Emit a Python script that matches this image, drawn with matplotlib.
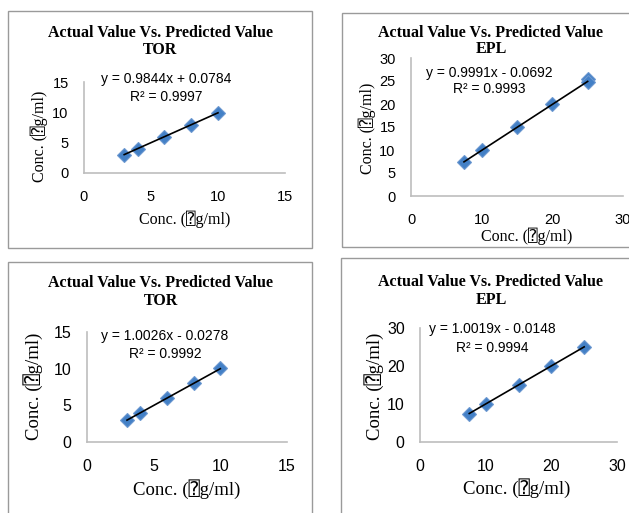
import matplotlib.pyplot as plt
import numpy as np
from matplotlib.patches import Rectangle

W, H = 629, 513

# données
tor_x = [3, 4, 6, 8, 10]
tor_y_1 = [3.03, 4.0, 5.98, 7.95, 9.92]
tor_y_2 = [3.0, 3.98, 6.0, 7.98, 10.05]
epl_x_1 = [7.5, 10, 15, 20, 25, 25]
epl_y_1 = [7.45, 9.9, 14.9, 19.9, 25.4, 24.7]
epl_x_2 = [7.5, 10, 15, 20, 25]
epl_y_2 = [7.5, 9.98, 15.0, 20.05, 25.0]

pentes = [0.9844, 0.9991, 1.0026, 1.0019]
ordonnees = [0.0784, -0.0692, -0.0278, -0.0148]
equations = ["y = 0.9844x + 0.0784", "y = 0.9991x - 0.0692",
             "y = 1.0026x - 0.0278", "y = 1.0019x - 0.0148"]
r2_textes = ["R² = 0.9997", "R² = 0.9993", "R² = 0.9992", "R² = 0.9994"]
noms = ["TOR", "EPL", "TOR", "EPL"]
titre = "Actual Value Vs. Predicted Value"
label_axe = "Conc. (\u2370g/ml)"

bleu = "#4380C6"
serif = ["Liberation Serif", "DejaVu Sans Mono", "DejaVu Sans"]
sans = ["Liberation Sans", "DejaVu Sans"]


def fx(x):
    return x / W


def fy(y):
    return 1 - y / H


fig = plt.figure(figsize=(W / 100, H / 100), dpi=100)

# cadres gris autour de chaque graphique (en pixels: x0, y0, x1, y1)
cadres = [(8, 11, 312, 248), (342, 13, 640, 247), (8, 262, 312, 520), (341, 258, 640, 520)]
for x0, y0, x1, y1 in cadres:
    fig.patches.append(Rectangle((fx(x0), fy(y1)), fx(x1 - x0), (y1 - y0) / H,
                                 transform=fig.transFigure, fill=False,
                                 edgecolor="#9a9a9a", linewidth=1.0))

# position des axes en pixels: gauche, haut(ymax), droite, bas(y=0)
zones = [(84, 82, 285, 173), (411, 58, 623, 196), (87, 332, 287, 442), (420, 328, 617, 442)]
maxis = [15, 30, 15, 30]
pas_x = [5, 10, 5, 10]
pas_y = [5, 5, 5, 10]
series = [(tor_x, tor_y_1), (epl_x_1, epl_y_1), (tor_x, tor_y_2), (epl_x_2, epl_y_2)]

# positions des textes (centre, en pixels)
pos_titre = [(160, 33, 50), (491, 33, 49), (161, 283, 301), (491, 282, 300)]
pos_eq = [(166, 79, 97), (489, 73, 89), (165, 336, 354), (492, 329, 348)]
pos_xlabel = [(185, 219), (527, 236), (187, 489), (517, 488)]
pos_ylabel = [(39, 136), (367, 128), (33, 386), (374, 386)]
taille_label = [11.5, 11.5, 13.5, 13.5]
taille_ticks = [10.5, 10.5, 11.5, 11.5]

for i in range(4):
    g, h, d, b = zones[i]
    ax = fig.add_axes([fx(g), fy(b), (d - g) / W, (b - h) / H])
    x, y = series[i]
    ax.plot(x, y, linestyle="none", marker="D", markersize=7.5,
            color=bleu, markeredgecolor="#6C98D0", markeredgewidth=0.8, zorder=3)
    xs = np.array([min(x), max(x)])
    ax.plot(xs, pentes[i] * xs + ordonnees[i], color="black", linewidth=1.2, zorder=4)
    ax.set_xlim(0, maxis[i])
    ax.set_ylim(0, maxis[i])
    ax.set_xticks(np.arange(0, maxis[i] + 1, pas_x[i]))
    ax.set_yticks(np.arange(0, maxis[i] + 1, pas_y[i]))
    ax.tick_params(length=0, labelsize=taille_ticks[i])
    ax.tick_params(axis="x", pad=12)
    ax.tick_params(axis="y", pad=11)
    for lab in ax.get_xticklabels() + ax.get_yticklabels():
        lab.set_family(sans)
    for s in ["top", "right"]:
        ax.spines[s].set_visible(False)
    for s in ["left", "bottom"]:
        ax.spines[s].set_color("#BDBDBD")
        ax.spines[s].set_linewidth(1.2)
    ax.patch.set_alpha(0)

    cx, y1, y2 = pos_titre[i]
    fig.text(fx(cx), fy(y1), titre, ha="center", va="center", fontsize=11.5,
             fontweight="bold", family=serif)
    fig.text(fx(cx), fy(y2), noms[i], ha="center", va="center", fontsize=11.5,
             fontweight="bold", family=serif)
    ex, e1, e2 = pos_eq[i]
    fig.text(fx(ex), fy(e1), equations[i], ha="center", va="center", fontsize=10, family=sans)
    fig.text(fx(ex), fy(e2), r2_textes[i], ha="center", va="center", fontsize=10, family=sans)
    lx, ly = pos_xlabel[i]
    fig.text(fx(lx), fy(ly), label_axe, ha="center", va="center",
             fontsize=taille_label[i], family=serif)
    lx, ly = pos_ylabel[i]
    fig.text(fx(lx), fy(ly), label_axe, ha="center", va="center", rotation=90,
             fontsize=taille_label[i], family=serif)

fig.savefig("out.png", dpi=100)
